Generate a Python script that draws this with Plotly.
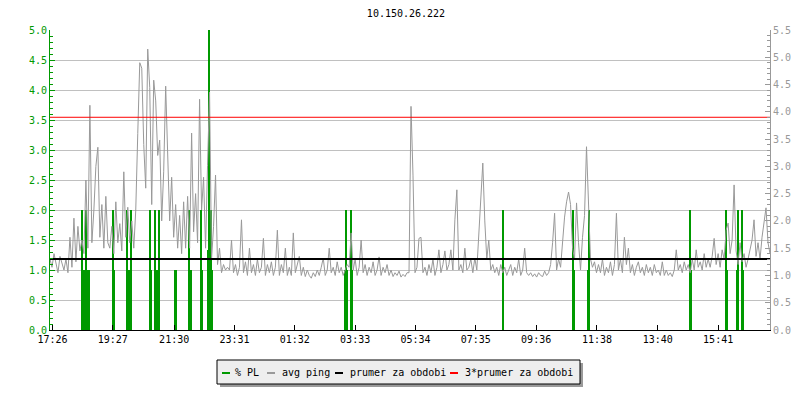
import plotly.graph_objects as go

GREEN = "#009900"
GRAY = "#999999"
GRID = "#c0c0c0"
FONT = "DejaVu Sans Mono"

title_text = "10.150.26.222"

# x axis: minutes since 17:21
x_end = 1444
tick_minutes = [5, 126, 249, 370, 491, 612, 733, 854, 975, 1097, 1219, 1340]
tick_labels = ["17:26", "19:27", "21:30", "23:31", "01:32", "03:33",
               "05:34", "07:35", "09:36", "11:38", "13:40", "15:41"]

# avg ping [ms], one sample every 4 minutes
ping_step = 4
ping_ms = [
    1.30, 1.15, 1.40, 1.20, 1.05, 1.35, 1.20, 1.10, 1.30, 1.05,
    1.70, 1.15, 2.05, 1.25, 1.90, 1.45, 1.65, 1.40, 2.75, 1.50,
    4.12, 1.60, 2.20, 3.00, 3.35, 1.70, 2.30, 1.50, 2.45, 1.60,
    1.50, 1.90, 1.40, 2.35, 1.60, 1.95, 1.45, 2.90, 1.70, 2.25,
    1.60, 2.00, 1.50, 2.20, 3.60, 4.90, 4.80, 3.40, 2.60, 5.15,
    4.45, 2.30, 4.58, 4.20, 3.20, 3.48, 2.00, 2.90, 4.47, 3.06,
    2.00, 2.80, 1.70, 2.30, 1.50, 2.10, 1.40, 2.35, 1.50, 2.45,
    1.50, 3.61, 1.80, 2.50, 1.60, 4.23, 2.20, 2.80, 1.50, 3.02,
    4.36, 1.30, 1.90, 2.84, 1.20, 1.50, 1.05, 1.20, 1.10, 1.15,
    1.10, 1.65, 1.05, 1.20, 1.00, 1.15, 2.02, 1.05, 1.25, 1.00,
    1.50, 1.05, 1.20, 1.00, 1.30, 1.05, 1.15, 1.68, 1.00, 1.20,
    1.05, 1.25, 1.00, 1.15, 1.83, 1.00, 1.20, 1.05, 1.50, 1.00,
    1.15, 1.00, 1.78, 1.05, 1.20, 1.35, 1.00, 1.15, 0.98, 1.10,
    1.00, 0.95, 1.05, 0.98, 1.10, 1.00, 1.15, 1.32, 1.00, 1.10,
    1.50, 1.05, 1.15, 1.00, 1.25, 1.05, 1.15, 1.00, 1.10, 1.20,
    1.15, 1.78, 1.10, 1.30, 1.00, 1.15, 1.65, 1.05, 1.20, 1.00,
    1.15, 1.05, 1.25, 1.00, 1.10, 1.34, 1.00, 1.15, 1.05, 1.20,
    1.00, 1.10, 0.98, 1.05, 1.00, 1.08, 0.97, 1.02, 0.98, 1.05,
    1.05, 4.10, 2.84, 1.05, 1.15, 1.68, 1.70, 1.05, 1.15, 1.00,
    1.20, 1.05, 1.30, 1.00, 1.15, 1.47, 1.05, 1.20, 1.45, 1.10,
    1.20, 1.47, 1.10, 2.02, 2.57, 1.10, 1.20, 1.05, 1.50, 1.10,
    1.15, 1.30, 1.05, 1.32, 1.10, 1.83, 2.53, 3.06, 2.00, 1.30,
    1.65, 1.10, 1.20, 1.05, 1.15, 1.00, 1.20, 1.05, 1.15, 1.00,
    1.10, 1.20, 1.00, 1.15, 1.05, 1.30, 1.00, 1.10, 1.50, 1.05,
    1.00, 1.05, 0.98, 1.03, 0.97, 1.05, 1.00, 0.98, 1.08, 1.00,
    1.05, 1.20, 1.60, 2.14, 1.10, 1.30, 1.15, 1.60, 2.07, 2.35,
    2.53, 2.30, 1.50, 1.30, 2.33, 1.60, 1.10, 1.70, 2.10, 3.36,
    2.20, 1.30, 1.15, 1.25, 1.05, 1.20, 1.05, 1.30, 1.00, 1.15,
    1.05, 1.25, 1.00, 1.20, 2.14, 1.10, 1.30, 1.05, 1.70, 1.20,
    1.50, 1.05, 1.20, 1.00, 1.15, 1.25, 1.05, 1.15, 1.00, 1.20,
    1.05, 1.15, 1.00, 1.20, 1.05, 1.10, 1.00, 1.25, 1.00, 1.10,
    1.00, 1.05, 0.98, 1.10, 1.47, 1.10, 1.20, 1.05, 1.25, 1.10,
    1.20, 1.05, 1.30, 1.10, 1.47, 1.15, 1.25, 1.10, 1.40, 1.15,
    1.30, 1.15, 1.35, 1.68, 1.20, 1.40, 1.15, 1.47, 1.30, 1.83,
    1.96, 1.40, 1.65, 2.66, 1.45, 1.20, 1.60, 1.25, 1.40, 1.15,
    1.30, 1.50, 1.65, 2.02, 1.35, 1.60, 1.30, 1.70, 2.00, 2.24, 1.60, 1.40,
]
ping_minutes = [i * ping_step for i in range(len(ping_ms))]

# packet loss [%]
pl_minutes = [64, 66, 70, 72, 76, 78, 126, 128, 154, 156, 160, 162,
              201, 203, 211, 213, 217, 219, 251, 253, 279, 281, 283,
              303, 305, 317, 319, 321, 323, 325,
              592, 594, 596, 604, 606, 909, 1049, 1051, 1079, 1081,
              1284, 1286, 1356, 1358, 1378, 1380, 1388, 1390]
pl_percent = [2.0, 1.0, 1.0, 2.0, 1.0, 1.0, 2.0, 1.0, 2.0, 1.0, 1.0, 2.0,
              2.0, 1.0, 2.0, 1.0, 1.0, 2.0, 1.0, 1.0, 2.0, 1.0, 1.0,
              2.0, 1.0, 1.33, 5.0, 1.33, 2.0, 1.0,
              1.0, 2.0, 1.0, 2.0, 1.0, 2.0, 2.0, 1.0, 1.0, 2.0,
              2.0, 1.0, 2.0, 1.0, 1.0, 2.0, 2.0, 1.0]

avg_ping = 1.30
avg_ping_x3 = 3.90

legend_labels = ["% PL", "avg ping", "prumer za obdobi", "3*prumer za obdobi"]
legend_colors = [GREEN, GRAY, "#000000", "#ff0000"]

# the page body has an 8px margin, so the figure starts at (8, 8)
PAGE_OFF = 8


def px_x(p):
    # window pixel -> paper fraction (plot area spans x 50..770)
    return (p - 50) / 720


def px_y(p):
    # window pixel -> paper fraction (plot area spans y 30..330)
    return (330 - p) / 300


fig = go.Figure()
fig.add_trace(
    go.Bar(
        x=pl_minutes,
        y=pl_percent,
        width=2.0,
        name=legend_labels[0],
        marker=dict(color=GREEN, line=dict(width=0)),
        yaxis="y",
    )
)
fig.add_trace(
    go.Scatter(
        x=ping_minutes,
        y=ping_ms,
        mode="lines",
        name=legend_labels[1],
        line=dict(color=GRAY, width=1),
        yaxis="y2",
    )
)
line_x = [ping_minutes[0], x_end]
fig.add_trace(
    go.Scatter(
        x=line_x,
        y=[avg_ping, avg_ping],
        mode="lines",
        name=legend_labels[2],
        line=dict(color="#000000", width=2),
        yaxis="y2",
    )
)
fig.add_trace(
    go.Scatter(
        x=line_x,
        y=[avg_ping_x3, avg_ping_x3],
        mode="lines",
        name=legend_labels[3],
        line=dict(color="#ff0000", width=1),
        yaxis="y2",
    )
)

# legend box drawn by hand (rrdtool style)
shapes = [
    dict(type="rect", xref="paper", yref="paper",
         x0=px_x(220), x1=px_x(583), y0=px_y(387), y1=px_y(363),
         fillcolor="#9a9a9a", line=dict(width=0)),
    dict(type="rect", xref="paper", yref="paper",
         x0=px_x(217), x1=px_x(580), y0=px_y(384), y1=px_y(360),
         fillcolor="#eeeeee", line=dict(color="#000000", width=1)),
]
annotations = []
sym_x = [222, 267, 335, 450]
text_x = [233, 280, 348, 463]
for label, color, sx, tx in zip(legend_labels, legend_colors, sym_x, text_x):
    shapes.append(dict(type="line", xref="paper", yref="paper",
                       x0=px_x(sx), x1=px_x(sx + 8), y0=px_y(373), y1=px_y(373),
                       line=dict(color=color, width=2)))
    annotations.append(dict(text=label, xref="paper", yref="paper",
                            x=px_x(tx), y=px_y(372), xanchor="left", yanchor="middle",
                            showarrow=False, font=dict(family=FONT, size=10, color="#000000")))

fig.update_layout(
    width=800 - PAGE_OFF,
    height=400 - PAGE_OFF,
    margin=dict(l=50 - PAGE_OFF, r=30, t=30 - PAGE_OFF, b=70),
    paper_bgcolor="#ffffff",
    plot_bgcolor="#ffffff",
    font=dict(family=FONT, size=10, color="#000000"),
    showlegend=False,
    bargap=0,
    title=dict(text=title_text, x=(406 - PAGE_OFF) / 792, xref="container", xanchor="center",
               y=1 - (13 - PAGE_OFF) / 392, yref="container", yanchor="middle",
               font=dict(family=FONT, size=10, color="#000000")),
    xaxis=dict(
        range=[0, x_end],
        tickvals=tick_minutes,
        ticktext=tick_labels,
        ticks="inside",
        ticklen=5,
        tickcolor="#000000",
        showgrid=False,
        zeroline=False,
        showline=True,
        linecolor="#000000",
        linewidth=1,
        automargin=False,
        tickfont=dict(family=FONT, size=10, color="#000000"),
    ),
    yaxis=dict(
        range=[0, 5],
        dtick=0.5,
        tickformat=".1f",
        ticks="inside",
        ticklen=5,
        tickcolor=GREEN,
        showline=True,
        linecolor=GREEN,
        linewidth=1,
        showgrid=True,
        gridcolor=GRID,
        gridwidth=1,
        zeroline=False,
        automargin=False,
        tickfont=dict(family=FONT, size=10, color=GREEN),
        minor=dict(dtick=0.1, ticks="inside", ticklen=3, tickcolor=GREEN, showgrid=False),
    ),
    yaxis2=dict(
        range=[0, 5.5],
        dtick=0.5,
        tickformat=".1f",
        overlaying="y",
        side="right",
        ticks="inside",
        ticklen=5,
        tickcolor=GRAY,
        showline=True,
        linecolor=GRAY,
        linewidth=1,
        showgrid=False,
        zeroline=False,
        automargin=False,
        tickfont=dict(family=FONT, size=10, color=GRAY),
        minor=dict(dtick=0.1, ticks="inside", ticklen=3, tickcolor=GRAY, showgrid=False),
    ),
    shapes=shapes,
    annotations=annotations,
)

fig.write_html("out.html")
